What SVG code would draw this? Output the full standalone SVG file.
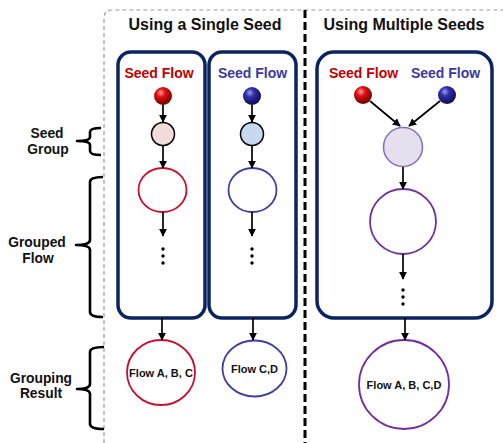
<svg xmlns="http://www.w3.org/2000/svg" width="503" height="443" viewBox="0 0 503 443">
<style>
text{font-family:"Liberation Sans",Arial,sans-serif;font-weight:bold;text-anchor:middle;fill:#111}
.title{font-size:16px}
.lab{font-size:13.8px}
.sr{font-size:14px;fill:#c00000}
.sb{font-size:14px;fill:#3a3aa0}
.res{font-size:11px}
.box{fill:none;stroke:#0b2461;stroke-width:3.5}
.brace{fill:none;stroke:#000;stroke-width:2.6;stroke-linejoin:round}
.arr{stroke:#000;stroke-width:1.7;fill:none;marker-end:url(#ah)}
.dot{fill:#000}
</style>
<defs>
<marker id="ah" viewBox="0 0 10 10" refX="9" refY="5" markerWidth="8" markerHeight="8" markerUnits="userSpaceOnUse" orient="auto">
<path d="M0,0 L10,5 L0,10 Z" fill="#000"/>
</marker>
<radialGradient id="gRed" cx="0.38" cy="0.32" r="0.7">
<stop offset="0" stop-color="#ff9a9a"/>
<stop offset="0.35" stop-color="#e01010"/>
<stop offset="1" stop-color="#6a0000"/>
</radialGradient>
<radialGradient id="gBlue" cx="0.38" cy="0.32" r="0.7">
<stop offset="0" stop-color="#9a9aee"/>
<stop offset="0.35" stop-color="#3030a8"/>
<stop offset="1" stop-color="#0c0c50"/>
</radialGradient>
</defs>

<g id="frame">
<path d="M104,443 L104,18 Q104,10 112,10 L503,10" fill="none" stroke="#9a9a9a" stroke-width="1.2" stroke-dasharray="4 3"/>
<line x1="305" y1="10" x2="305" y2="443" stroke="#000" stroke-width="3" stroke-dasharray="8 4"/>
</g>

<g id="titles">
<text class="title" x="205" y="30">Using a Single Seed</text>
<text class="title" x="404" y="30">Using Multiple Seeds</text>
</g>

<g id="labels">
<text class="lab" x="47" y="138">Seed</text>
<text class="lab" x="48" y="154">Group</text>
<path class="brace" d="M101,128 Q90,128 90,132 L90,137 Q90,141 77,141 Q90,141 90,145 L90,151 Q90,155 101,155"/>
<text class="lab" x="37" y="247">Grouped</text>
<text class="lab" x="38" y="263">Flow</text>
<path class="brace" d="M103,177 Q90,177 90,182 L90,240 Q90,245 76,245 Q90,245 90,250 L90,312 Q90,317 103,317"/>
<text class="lab" x="41" y="383">Grouping</text>
<text class="lab" x="41" y="398">Result</text>
<path class="brace" d="M104,347 Q90,347 90,352 L90,384 Q90,389 77,389 Q90,389 90,394 L90,424 Q90,429 104,429"/>
</g>

<g id="box-single-red">
<rect class="box" x="118" y="52" width="87" height="266" rx="13"/>
<text class="sr" x="159" y="78">Seed Flow</text>
<circle cx="163" cy="96" r="9" fill="url(#gRed)"/>
<circle cx="163" cy="134" r="11.5" fill="#f2dcdb" stroke="#000" stroke-width="1.5"/>
<ellipse cx="162.5" cy="190" rx="24" ry="22" fill="#fff" stroke="#c8102e" stroke-width="1.8"/>
<circle class="dot" cx="163" cy="249" r="1.7"/>
<circle class="dot" cx="163" cy="256" r="1.7"/>
<circle class="dot" cx="163" cy="263" r="1.7"/>
</g>

<g id="box-single-blue">
<rect class="box" x="209" y="52" width="87" height="266" rx="13"/>
<text class="sb" x="252.5" y="78">Seed Flow</text>
<circle cx="252" cy="96" r="9" fill="url(#gBlue)"/>
<circle cx="252" cy="134" r="11.5" fill="#c6d9f1" stroke="#000" stroke-width="1.5"/>
<ellipse cx="252.5" cy="190" rx="24" ry="22" fill="#fff" stroke="#3f3fa0" stroke-width="1.8"/>
<circle class="dot" cx="252" cy="249" r="1.7"/>
<circle class="dot" cx="252" cy="256" r="1.7"/>
<circle class="dot" cx="252" cy="263" r="1.7"/>
</g>

<g id="box-multiple">
<rect class="box" x="317" y="52" width="175" height="266" rx="17"/>
<text class="sr" x="363.5" y="78">Seed Flow</text>
<text class="sb" x="445.5" y="78">Seed Flow</text>
<circle cx="363" cy="95" r="9" fill="url(#gRed)"/>
<circle cx="447" cy="95" r="9" fill="url(#gBlue)"/>
<circle cx="403" cy="147" r="19.5" fill="#e6e0ee" stroke="#8a72b8" stroke-width="1.6"/>
<ellipse cx="403" cy="221.5" rx="33" ry="32.5" fill="#fff" stroke="#7030a0" stroke-width="1.8"/>
<circle class="dot" cx="403" cy="290" r="1.7"/>
<circle class="dot" cx="403" cy="297" r="1.7"/>
<circle class="dot" cx="403" cy="304" r="1.7"/>
</g>

<g id="result-red">
<ellipse cx="161" cy="372.5" rx="34" ry="32.5" fill="#fff" stroke="#c8102e" stroke-width="1.8"/>
<text class="res" x="161" y="376.5">Flow A, B, C</text>
</g>
<g id="result-blue">
<ellipse cx="254.5" cy="368.5" rx="32" ry="28" fill="#fff" stroke="#3f3fa0" stroke-width="1.8"/>
<text class="res" x="254.5" y="372.5">Flow C,D</text>
</g>
<g id="result-multiple">
<ellipse cx="404" cy="384.5" rx="45" ry="44.5" fill="#fff" stroke="#7030a0" stroke-width="1.8"/>
<text class="res" x="404" y="388.5">Flow A, B, C,D</text>
</g>

<g id="connectors">
<line class="arr" x1="163" y1="105" x2="163" y2="122"/>
<line class="arr" x1="163" y1="146" x2="163" y2="168"/>
<line class="arr" x1="163" y1="212" x2="163" y2="236"/>
<line class="arr" x1="252" y1="105" x2="252" y2="122"/>
<line class="arr" x1="252" y1="146" x2="252" y2="168"/>
<line class="arr" x1="252" y1="212" x2="252" y2="236"/>
<line class="arr" x1="162" y1="318" x2="162" y2="340"/>
<line class="arr" x1="253" y1="318" x2="253" y2="340"/>
<line class="arr" x1="370" y1="101" x2="400" y2="126"/>
<line class="arr" x1="440" y1="101" x2="409" y2="126"/>
<line class="arr" x1="403" y1="167" x2="403" y2="189"/>
<line class="arr" x1="403" y1="254" x2="403" y2="279"/>
<line class="arr" x1="405" y1="318" x2="405" y2="340"/>
</g>
</svg>
